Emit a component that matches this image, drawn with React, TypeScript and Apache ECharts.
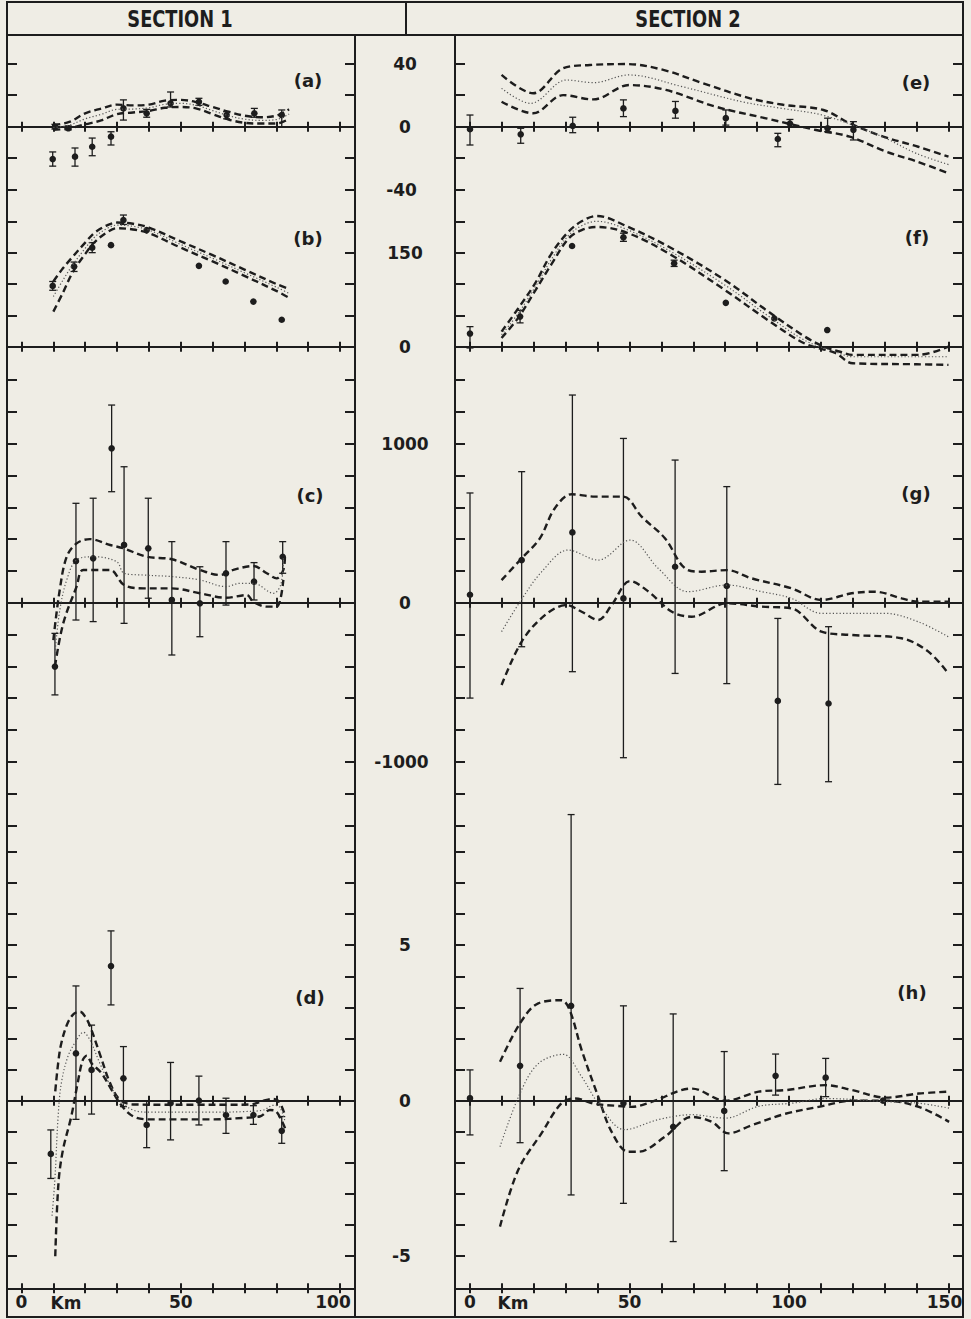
import React, { useEffect, useRef } from 'react';
import * as echarts from 'echarts';

// ---------------- DATA (km, value) ----------------
// Section 1
const aUpper = [[10,1],[15,3],[20,8.5],[25,11.5],[30,14],[35,13.5],[40,14],[45,16.5],[50,17],[55,15.5],[60,12.5],[65,9.5],[70,7],[75,6],[80,7],[84,11]];
const aMid = [[10,-0.5],[15,1],[20,5],[25,7.8],[30,11],[35,11.2],[40,12],[45,14.2],[50,14.8],[55,13.5],[60,10.2],[65,7],[70,4.8],[75,4],[80,4.5],[84,8]];
const aLower = [[10,-2],[15,-1],[20,1.5],[25,4],[30,8],[35,9],[40,10],[45,12],[50,12.5],[55,11.5],[60,8],[65,4.5],[70,2.5],[75,2],[80,2],[84,5]];
// [km, value, low, high]
const aPoints = [[9.8,-20.5,-25,-16],[16.8,-19,-25,-13.5],[22.2,-12.7,-18.4,-7.2],[28.1,-6.3,-11.6,-3.2],[10.5,0,-1.5,1.5],[14.7,-1,-2,0.5],[32,11.6,4.2,17],[39.3,8.5,6,11],[46.8,14.8,12.5,22],[55.7,15.8,13.5,18],[64.4,7.4,5,9.5],[73.1,8.5,6,11.6],[81.7,7.4,0,10.6]];

const bUpper = [[10,104],[13,125],[16,143],[20,166],[23,182],[27,194],[30,198],[35,196],[40,190],[50,168],[60,146],[70,123],[80,100],[84,92]];
const bMid = [[10,80],[13,106],[16,130],[20,157],[23,175],[27,189],[30,194],[35,192],[40,186],[50,163],[60,141],[70,118],[80,95],[84,85]];
const bLower = [[10,56],[13,86],[16,118],[20,148],[23,167],[27,183],[30,189],[35,187],[40,181],[50,158],[60,136],[70,113],[80,89],[84,78]];
const bPoints = [[9.8,97,90,104],[16.5,128,120,135],[22.2,158,150,166],[28.1,162,162,162],[32,202,195,210],[39.3,186,186,186],[55.7,129,129,129],[64.1,104,104,104],[72.8,72,72,72],[81.7,43,43,43]];

const cUpper = [[10,-235],[12,80],[14.2,289],[17.3,373],[21.5,400],[27.8,363],[32,342],[39.3,289],[47.2,273],[56,206],[62.3,174],[66.5,206],[72.8,231],[77,185],[80.1,153],[82.2,206],[82.7,289]];
const cMid = [[10.5,-318],[12,-50],[14.2,143],[17.3,269],[22.6,289],[29.9,258],[32.2,185],[38.2,174],[47.2,164],[56,143],[64.2,101],[68.6,122],[72.8,122],[79.1,59],[81.5,120],[82.2,289]];
const cLower = [[10.5,-402],[13.1,-130],[17.3,101],[19.4,206],[27.8,206],[32.2,111],[38.2,90],[47.2,90],[56,59],[64.2,31],[70.7,48],[72.8,6],[77,-25],[80.1,-25],[82.2,143]];
const cPoints = [[10.5,-402,-580,-193],[17.1,262,-109,625],[22.5,279,-119,657],[28.3,971,698,1243],[32.2,363,-130,855],[39.8,342,28,657],[47.2,17,-329,384],[56,-4,-214,226],[64.2,185,-15,384],[73,132,17,252],[82,289,185,384]];

const dUpper = [[10.6,0.3],[11.5,1.2],[12.5,1.85],[14.5,2.5],[16.5,2.8],[18.4,2.86],[20,2.7],[21.5,2.4],[24.6,1.5],[27.8,0.57],[30.9,0.03],[35,-0.12],[45,-0.13],[55,-0.13],[65,-0.13],[72,-0.12],[76,0],[79,0.06],[81,-0.05],[82.8,-0.5]];
const dMid = [[9.6,-3.7],[10.5,-2.5],[11.5,-0.5],[12.5,0.56],[14.5,1.4],[17,1.9],[19.4,2.2],[21.5,1.95],[24.6,1.2],[27.8,0.5],[30.9,0],[35,-0.3],[40,-0.37],[50,-0.37],[60,-0.37],[70,-0.35],[76,-0.3],[79,-0.15],[81,-0.2],[82.8,-0.7]];
const dLower = [[10.6,-5],[11.6,-2.66],[13,-1.59],[15.6,-0.52],[17.6,0.55],[19.2,1.3],[20.5,1.45],[22,1.2],[25,0.9],[28,0.4],[31,-0.1],[35,-0.5],[40,-0.6],[50,-0.6],[60,-0.6],[70,-0.55],[75,-0.5],[78,-0.3],[80,-0.35],[82.8,-0.9]];
const dPoints = [[9.2,-1.71,-2.5,-0.94],[17.1,1.52,-0.6,3.69],[22,0.99,-0.43,2.43],[28.1,4.33,3.08,5.46],[32,0.72,-0.19,1.74],[39.3,-0.78,-1.51,0],[46.8,-0.08,-1.26,1.23],[55.7,0,-0.78,0.79],[64.2,-0.46,-1.05,0.08],[72.8,-0.46,-0.76,-0.16],[81.7,-0.97,-1.37,-0.51]];

// Section 2
const eUpper = [[9.9,32.8],[19.8,21.2],[29.2,37],[37.6,39.1],[49.1,39.7],[60.6,36],[73.1,27.5],[87.8,18],[98.2,13.9],[110.8,10.6],[119.1,2.1],[129.6,-6.3],[140.5,-12.7],[150,-19]];
const eMid = [[9.9,24.3],[19,14.8],[30.3,29.6],[38.7,27.9],[49.8,32.8],[66.5,25.4],[85.3,15.8],[97.8,11.6],[110.4,7.4],[124,-2],[131,-8],[140,-17],[150,-24]];
const eLower = [[9.9,15.8],[19.8,8.5],[29.2,20],[38.6,17.3],[50,26.4],[61.4,23.3],[77,12.7],[92.8,5.3],[108.5,-2.1],[119,-6.3],[130.4,-15.8],[140,-22],[150,-29.5]];
const ePoints = [[0,-1.6,-11.6,7.4],[15.9,-4.8,-10.5,-1],[32.2,0.5,-3.8,6],[48.1,11.6,6.4,17],[64.4,10,5.4,16],[80.2,5.4,1,10.6],[96.5,-7.8,-12.7,-4.2],[100.3,2,0,4.6],[112.1,-1,-3.2,5.4],[120.2,-2,-8.4,3.2]];

const fUpper = [[9.9,24],[15.1,61],[20.4,101],[25.6,149],[30.8,183],[35,200],[39.7,208.5],[49.6,191],[63.2,157],[80,106],[93.5,56],[105,16],[111,0],[116,-8],[120,-13],[140.5,-13],[150,0]];
const fMid = [[9.9,19],[15.1,53],[20.4,95],[25.6,140],[30.8,177],[35,193],[39.7,200],[49.6,186],[63.2,151],[80,98],[93.5,49],[105,10],[114.5,-8],[120,-16],[140,-16],[150,-16]];
const fLower = [[9.9,14],[15.1,46],[20.4,89],[25.6,132],[30.8,172],[35,186],[39.7,191],[49.6,181],[63.2,146],[80,90],[93.5,42],[105,5],[114.5,-10],[120,-26.5],[140,-28],[150,-29]];
const fPoints = [[0,21,-2,32],[15.7,48,38,58],[32,160.6,160.6,160.6],[48.1,174.5,168,181],[64,133,128,138],[80.2,70,70,70],[95.4,45,45,45],[112,26.6,26.6,26.6]];

const gUpper = [[9.9,142],[16.2,279],[21.9,405],[26.6,594],[31.9,682],[39.2,667],[48,667],[53.8,541],[61.1,405],[67.4,216],[72.6,195],[80.5,205],[88.3,153],[100.8,90],[110.2,17],[119.6,59],[126.9,69],[135.3,27],[140.5,6],[149.9,6]];
const gMid = [[9.9,-182],[15.7,6],[22.5,195],[30.8,331],[40.2,268],[50.2,394],[59,216],[68.4,69],[80.5,111],[91.5,69],[100.8,27],[110.2,-67],[130,-67],[140.5,-120],[149.9,-214]];
const gLower = [[9.9,-518],[16.2,-245],[23.5,-78],[30.3,-15],[35,-57],[40.2,-109],[44.4,-15],[50.2,136],[56,69],[63.3,-57],[69.5,-88],[80.5,-4],[91.5,-25],[100.8,-36],[110.2,-182],[119.6,-203],[135.3,-224],[143.7,-308],[149.9,-444]];
const gPoints = [[0,50,-600,690],[16.2,268,-277,824],[32.1,442,-434,1306],[48.1,27,-975,1033],[64.3,226,-445,897],[80.5,105,-509,730],[96.5,-618,-1143,-99],[112.4,-634,-1126,-151]];

const hUpper = [[9.4,1.25],[15.7,2.49],[21.4,3.13],[28.7,3.23],[31.3,2.9],[35,1.63],[40.2,0.13],[44.4,-1],[49.6,-1.64],[52.8,-1.64],[61.1,-1.16],[69.5,-0.52],[75.8,-0.68],[81,-1.05],[88.3,-0.79],[98.9,-0.42],[109.3,-0.2],[119.8,0],[130.3,0],[140.7,-0.2],[150.2,-0.68]];
const hMid = [[9.4,-1.48],[15.7,0.24],[21.4,1.19],[29.2,1.49],[35,0.77],[40.2,-0.08],[48.5,-0.93],[59,-0.61],[69.5,-0.45],[80,-0.56],[90.5,-0.18],[101,-0.08],[111.4,0.07],[130.3,-0.03],[140.7,-0.08],[150.2,-0.24]];
const hLower = [[9.4,-4.05],[15.1,-2.23],[22.4,-1.05],[28.7,-0.08],[32.9,0.07],[39.2,-0.1],[46.5,-0.17],[50.6,-0.2],[56.9,-0.04],[69.5,0.39],[80,0],[90.5,0.29],[98.9,0.34],[111.4,0.5],[119.8,0.34],[130.3,0.1],[140.7,0.23],[150.2,0.29]];
const hPoints = [[0,0.08,-1.1,0.99],[15.7,1.12,-1.35,3.61],[31.7,3.05,-3.03,9.2],[48.1,-0.08,-3.3,3.05],[63.7,-0.84,-4.53,2.79],[79.7,-0.33,-2.25,1.58],[95.8,0.8,0.18,1.5],[111.5,0.74,0.13,1.36],[129.5,0,0,0]];

// axis ticks / labels
const xTicksS1 = [0,10,20,30,40,50,60,70,80,90,100];
const xTicksS2 = [0,10,20,30,40,50,60,70,80,90,100,110,120,130,140,150];
const xLabelsS1 = [0,50,100];
const xLabelsS2 = [0,50,100,150];
const yTicksA = [-40,-20,0,20,40];
const yLabelsA = [40,0,-40];
const yTicksB = [0,50,100,150,200];
const yLabelsB = [150,0];
const yTicksC = [-1400,-1200,-1000,-800,-600,-400,-200,0,200,400,600,800,1000,1200,1400];
const yLabelsC = [1000,0,-1000];
const yTicksD = [-5,-4,-3,-2,-1,0,1,2,3,4,5,6,7,8];
const yLabelsD = [5,0,-5];

// ---------------- LAYOUT ----------------
const INK = '#1d1d1d';
const BG = '#efede5';
const FONT = '"DejaVu Sans", sans-serif';
const W = 971;
const H = 1319;

const COLS = [
  { left: 7, right: 355, min: -4.55, max: 104.7, ticks: xTicksS1, labels: xLabelsS1, lastPad: 14 },
  { left: 455, right: 963, min: -4.7, max: 154.55, ticks: xTicksS2, labels: xLabelsS2, lastPad: 8 },
];
const ROWS = [
  { top: 35, bottom: 206, min: -50.27, max: 58.13, ticks: yTicksA, labels: yLabelsA },
  { top: 206, bottom: 380, min: -53.1, max: 224.4, ticks: yTicksB, labels: yLabelsB },
  { top: 346.7, bottom: 838, min: -1480, max: 1610, ticks: yTicksC, labels: yLabelsC },
  { top: 805, bottom: 1288.3, min: -6.032, max: 9.508, ticks: yTicksD, labels: yLabelsD },
];

const PANELS = [
  { name: '(a)', col: 0, row: 0, upper: aUpper, mid: aMid, lower: aLower, points: aPoints, lx: 308, ly: 80 },
  { name: '(b)', col: 0, row: 1, upper: bUpper, mid: bMid, lower: bLower, points: bPoints, lx: 308, ly: 238 },
  { name: '(c)', col: 0, row: 2, upper: cUpper, mid: cMid, lower: cLower, points: cPoints, lx: 310, ly: 495 },
  { name: '(d)', col: 0, row: 3, upper: dUpper, mid: dMid, lower: dLower, points: dPoints, lx: 310, ly: 997 },
  { name: '(e)', col: 1, row: 0, upper: eUpper, mid: eMid, lower: eLower, points: ePoints, lx: 916, ly: 82 },
  { name: '(f)', col: 1, row: 1, upper: fUpper, mid: fMid, lower: fLower, points: fPoints, lx: 917, ly: 237 },
  { name: '(g)', col: 1, row: 2, upper: gUpper, mid: gMid, lower: gLower, points: gPoints, lx: 916, ly: 493 },
  { name: '(h)', col: 1, row: 3, upper: hUpper, mid: hMid, lower: hLower, points: hPoints, lx: 912, ly: 992 },
];

const labelText = { fontFamily: FONT, fontWeight: 'bold' as const, fontSize: 17, color: INK };

function buildOption() {
  const grid: any[] = [];
  const xAxis: any[] = [];
  const yAxis: any[] = [];
  const series: any[] = [];
  const tickStyle = { color: INK, width: 2 };

  PANELS.forEach((p, gi) => {
    const C = COLS[p.col];
    const R = ROWS[p.row];
    grid.push({
      left: C.left, top: R.top, width: C.right - C.left, height: R.bottom - R.top,
      containLabel: false, outerBoundsMode: 'none', show: false,
    });
    const yl = yAxis.length;
    const baseY = {
      gridIndex: gi, type: 'value', min: R.min, max: R.max,
      axisLine: { show: false, onZero: false },
      splitLine: { show: false },
      axisTick: { show: true, inside: true, length: 10, lineStyle: tickStyle, customValues: R.ticks },
    };
    yAxis.push({ ...baseY, position: 'left', axisLabel: { show: false } });
    yAxis.push({
      ...baseY, position: 'right',
      axisLabel: p.col === 0 ? {
        show: true, customValues: R.labels, margin: 50, align: 'center', verticalAlign: 'middle',
        ...labelText,
        formatter: (v: number) => (v < 0 ? `{t|${v}}{s|\u00a0}` : `{t|${v}}`),
        rich: { t: { ...labelText }, s: { width: 7, fontSize: 17, fontFamily: FONT } },
      } : { show: false },
    });
    const xz = xAxis.length;
    const baseX = {
      gridIndex: gi, type: 'value', min: C.min, max: C.max,
      splitLine: { show: false },
      axisLabel: { show: false },
    };
    xAxis.push({
      ...baseX, position: 'bottom',
      axisLine: { show: true, onZero: true, lineStyle: tickStyle },
      axisTick: { show: true, inside: false, length: 5, customValues: C.ticks, lineStyle: tickStyle },
    });
    xAxis.push({
      ...baseX, position: 'top',
      axisLine: { show: true, onZero: true, lineStyle: tickStyle },
      axisTick: { show: true, inside: false, length: 5, customValues: C.ticks, lineStyle: tickStyle },
    });
    if (p.row === 3) {
      const last = C.labels[C.labels.length - 1];
      xAxis.push({
        ...baseX, position: 'bottom',
        axisLine: { show: true, onZero: false, lineStyle: tickStyle },
        axisTick: { show: true, inside: false, length: 5, customValues: C.ticks, lineStyle: tickStyle },
        axisLabel: {
          show: true, customValues: C.labels, margin: 5, ...labelText,
          formatter: (v: number) => (v === last ? `{r|${v}}` : `{t|${v}}`),
          rich: { t: { ...labelText }, r: { ...labelText, padding: [0, C.lastPad, 0, 0] } },
        },
      });
      xAxis.push({
        ...baseX, position: 'bottom',
        axisLine: { show: false, onZero: false },
        axisTick: { show: true, inside: true, length: 5, customValues: C.ticks, lineStyle: tickStyle },
      });
    }

    const dashed = { color: INK, width: 2.4, type: [7, 4] };
    const dotted = { color: '#555', width: 1.2, type: [1.2, 2.2] };
    [
      { d: p.upper, ls: dashed },
      { d: p.lower, ls: dashed },
      { d: p.mid, ls: dotted },
    ].forEach((s) => {
      series.push({
        type: 'line', xAxisIndex: xz, yAxisIndex: yl, data: s.d,
        smooth: 0.35, showSymbol: false, symbol: 'none', lineStyle: s.ls, silent: true,
      });
    });
    series.push({
      type: 'custom', xAxisIndex: xz, yAxisIndex: yl, data: p.points, clip: false,
      encode: { x: 0, y: 1 },
      renderItem: (params: any, api: any) => {
        const x = api.value(0);
        const pt = api.coord([x, api.value(1)]);
        const lo = api.coord([x, api.value(2)]);
        const hi = api.coord([x, api.value(3)]);
        const children: any[] = [];
        if (Math.abs(lo[1] - hi[1]) > 3) {
          const st = { stroke: INK, lineWidth: 1.3 };
          children.push({ type: 'line', shape: { x1: pt[0], y1: hi[1], x2: pt[0], y2: lo[1] }, style: st });
          children.push({ type: 'line', shape: { x1: pt[0] - 3.5, y1: hi[1], x2: pt[0] + 3.5, y2: hi[1] }, style: st });
          children.push({ type: 'line', shape: { x1: pt[0] - 3.5, y1: lo[1], x2: pt[0] + 3.5, y2: lo[1] }, style: st });
        }
        children.push({ type: 'circle', shape: { cx: pt[0], cy: pt[1], r: 3.3 }, style: { fill: INK } });
        return { type: 'group', children };
      },
    });
  });

  const ln = (x1: number, y1: number, x2: number, y2: number) => ({
    type: 'line', shape: { x1, y1, x2, y2 }, style: { stroke: INK, lineWidth: 2 }, silent: true,
  });
  const headFont = '"DejaVu Sans Condensed", "DejaVu Sans", sans-serif';
  const graphic: any[] = [
    { type: 'rect', shape: { x: 7, y: 2, width: 956, height: 1315 }, style: { fill: 'none', stroke: INK, lineWidth: 2 } },
    ln(7, 35, 963, 35),
    ln(406, 2, 406, 35),
    ln(355, 35, 355, 1317),
    ln(455, 35, 455, 1317),
    {
      type: 'text', x: 180, y: 19, scaleX: 0.86,
      style: { text: 'SECTION 1', fontFamily: headFont, fontWeight: 900, fontSize: 23, fill: INK, align: 'center', verticalAlign: 'middle' },
    },
    {
      type: 'text', x: 688, y: 19, scaleX: 0.86,
      style: { text: 'SECTION 2', fontFamily: headFont, fontWeight: 900, fontSize: 23, fill: INK, align: 'center', verticalAlign: 'middle' },
    },
    { type: 'text', x: 66, y: 1303, style: { text: 'Km', font: `bold 17px ${FONT}`, fill: INK, align: 'center', verticalAlign: 'middle' } },
    { type: 'text', x: 513, y: 1303, style: { text: 'Km', font: `bold 17px ${FONT}`, fill: INK, align: 'center', verticalAlign: 'middle' } },
  ];
  PANELS.forEach((p) => {
    graphic.push({
      type: 'text', x: p.lx, y: p.ly,
      style: { text: p.name, font: `bold 18px ${FONT}`, fill: INK, align: 'center', verticalAlign: 'middle' },
    });
  });

  return {
    animation: false,
    backgroundColor: BG,
    grid, xAxis, yAxis, series, graphic,
  };
}

export default function App() {
  const ref = useRef<HTMLDivElement>(null);
  useEffect(() => {
    if (!ref.current) return;
    const chart = echarts.init(ref.current, null, { renderer: 'svg', width: W, height: H });
    chart.setOption(buildOption() as any);
    return () => chart.dispose();
  }, []);
  return (
    <div
      ref={ref}
      style={{ position: 'fixed', left: 0, top: 0, width: W, height: H, background: BG }}
    />
  );
}
